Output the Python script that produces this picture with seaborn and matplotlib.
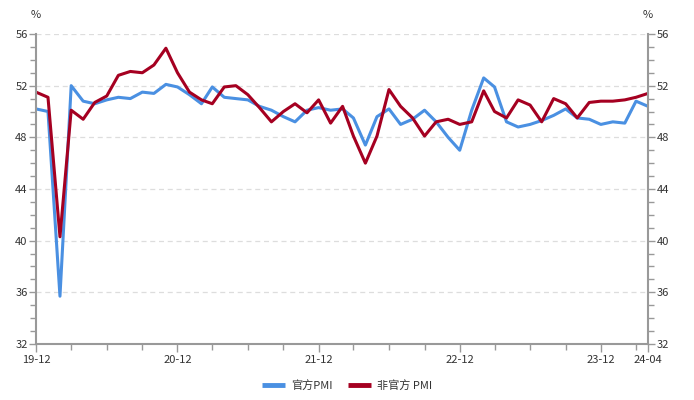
import numpy as np
import pandas as pd
import seaborn as sns
import matplotlib.pyplot as plt
import matplotlib.dates as mdates
from matplotlib.ticker import MultipleLocator

# monthly data, 2019-12 .. 2024-04
months = pd.date_range('2019-12-01', '2024-04-01', freq='MS')
official_pmi = [50.2, 50.0, 35.7, 52.0, 50.8, 50.6, 50.9, 51.1, 51.0, 51.5, 51.4, 52.1,
                51.9, 51.3, 50.6, 51.9, 51.1, 51.0, 50.9, 50.4, 50.1, 49.6, 49.2, 50.1,
                50.3, 50.1, 50.2, 49.5, 47.4, 49.6, 50.2, 49.0, 49.4, 50.1, 49.2, 48.0,
                47.0, 50.1, 52.6, 51.9, 49.2, 48.8, 49.0, 49.3, 49.7, 50.2, 49.5, 49.4,
                49.0, 49.2, 49.1, 50.8, 50.4]
caixin_pmi = [51.5, 51.1, 40.3, 50.1, 49.4, 50.7, 51.2, 52.8, 53.1, 53.0, 53.6, 54.9,
              53.0, 51.5, 50.9, 50.6, 51.9, 52.0, 51.3, 50.3, 49.2, 50.0, 50.6, 49.9,
              50.9, 49.1, 50.4, 48.1, 46.0, 48.1, 51.7, 50.4, 49.5, 48.1, 49.2, 49.4,
              49.0, 49.2, 51.6, 50.0, 49.5, 50.9, 50.5, 49.2, 51.0, 50.6, 49.5, 50.7,
              50.8, 50.8, 50.9, 51.1, 51.4]
series_names = ['官方PMI', '非官方 PMI']
xtick_dates = ['2019-12-01', '2020-12-01', '2021-12-01', '2022-12-01', '2023-12-01', '2024-04-01']
xtick_labels = ['19-12', '20-12', '21-12', '22-12', '23-12', '24-04']

df = pd.DataFrame({
    'date': list(months) * 2,
    'value': official_pmi + caixin_pmi,
    'series': [series_names[0]] * len(months) + [series_names[1]] * len(months),
})

sns.set_style('white')
plt.rcParams['font.family'] = ['Noto Sans CJK SC', 'DejaVu Sans']

fig = plt.figure(figsize=(6.94, 4.0), dpi=100)
ax = fig.add_axes([36 / 694, 1 - 344 / 400, 612 / 694, 310 / 400])

palette = {series_names[0]: '#4a90e2', series_names[1]: '#a50021'}
sns.lineplot(data=df, x='date', y='value', hue='series', palette=palette,
             linewidth=2.2, ax=ax)

grey = '#999999'
txt = '#333333'
fs = 8
ax.set_ylim(32, 56)
ax.set_xlim(months[0], months[-1])
ax.yaxis.set_major_locator(MultipleLocator(4))
ax.yaxis.set_minor_locator(MultipleLocator(1))
ax.set_xticks(pd.to_datetime(xtick_dates))
ax.set_xticklabels(xtick_labels)
ax.xaxis.set_minor_locator(mdates.MonthLocator(bymonth=[3, 6, 9, 12]))
ax.grid(axis='y', which='major', color='#dddddd', linestyle=(0, (4, 3)), linewidth=0.9)
ax.set_xlabel('')
ax.set_ylabel('')

for s in ['top', 'right']:
    ax.spines[s].set_visible(False)
for s in ['left', 'bottom']:
    ax.spines[s].set_color(grey)
    ax.spines[s].set_linewidth(1.5)

ax.tick_params(axis='x', which='major', direction='out', length=6, color=grey,
               width=1, labelsize=fs, labelcolor=txt, pad=2, bottom=True)
ax.tick_params(axis='x', which='minor', direction='out', length=4.5, color=grey,
               width=1, bottom=True)
ax.tick_params(axis='y', which='major', direction='out', length=5, color=grey,
               width=1, labelsize=fs, labelcolor=txt, pad=1, left=True)
ax.tick_params(axis='y', which='minor', direction='out', length=4.5, color=grey,
               width=1, left=True)

ax2 = ax.twinx()
ax2.set_ylim(32, 56)
ax2.yaxis.set_major_locator(MultipleLocator(4))
ax2.yaxis.set_minor_locator(MultipleLocator(1))
for s in ['top', 'left', 'bottom']:
    ax2.spines[s].set_visible(False)
ax2.spines['right'].set_color(grey)
ax2.spines['right'].set_linewidth(1.5)
ax2.tick_params(axis='y', which='major', direction='out', length=5, color=grey,
                width=1, labelsize=fs, labelcolor=txt, pad=1, right=True)
ax2.tick_params(axis='y', which='minor', direction='out', length=4.5, color=grey,
                width=1, right=True)

fig.text(36 / 694, 1 - 15 / 400, '%', ha='center', va='center', fontsize=fs, color=txt)
fig.text(648 / 694, 1 - 15 / 400, '%', ha='center', va='center', fontsize=fs, color=txt)

ax.legend_.remove()
handles, labels = ax.get_legend_handles_labels()
fig.legend(handles, labels, loc='center', bbox_to_anchor=(0.5, 1 - 385 / 400), ncol=2,
           frameon=False, fontsize=fs, handlelength=2.1, handletextpad=0.5,
           columnspacing=1.4, labelcolor=txt)
for h in fig.legends[0].get_lines():
    h.set_linewidth(3.5)
    h.set_solid_capstyle('butt')

fig.savefig('out.png', dpi=100)
